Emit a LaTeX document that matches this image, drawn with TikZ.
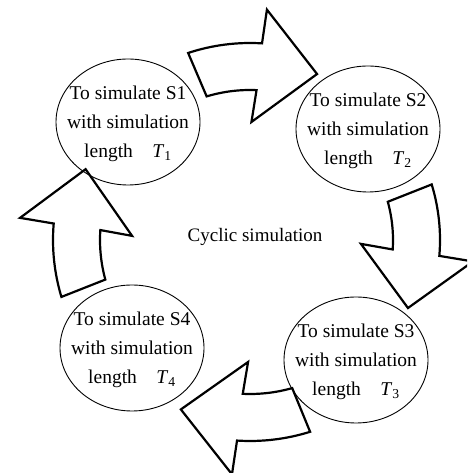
\documentclass[tikz,border=0pt]{standalone}
\usepackage{fontspec}
\setmainfont{Liberation Serif}
\usepackage{tikz}
\usetikzlibrary{shapes.geometric,positioning,calc}
\newcommand{\simlen}[1]{length\quad\textit{T}\textsubscript{#1}}

\begin{document}
\begin{tikzpicture}[x=1pt,y=1pt,
    stage/.style={ellipse, draw, line width=0.9pt, minimum width=144, minimum height=126, inner sep=0pt},
    stagetext/.style={align=center, inner sep=0pt, font=\fontsize{19.5}{29}\selectfont},
    blockarrow/.style={draw, line width=2.2pt, line join=miter}]
        \useasboundingbox (0,0) rectangle (467,473);
        \clip (0,0) rectangle (467,473);
        % Etapes
        \node[stage] (s1) at (128,351) {};
        \node[stage] (s2) at (368,344) {};
        \node[stage] (s3) at (356,113) {};
        \node[stage] (s4) at (132,125) {};
        \node[stagetext, below=2 of s1.center, anchor=center] (t1) {To simulate S1\\with simulation\\\simlen{1}};
        \node[stagetext, below=2 of s2.center, anchor=center] (t2) {To simulate S2\\with simulation\\\simlen{2}};
        \node[stagetext, below=2 of s3.center, anchor=center] (t3) {To simulate S3\\with simulation\\\simlen{3}};
        \node[stagetext, below=2 of s4.center, anchor=center] (t4) {To simulate S4\\with simulation\\\simlen{4}};
        \node[font=\fontsize{19}{23}\selectfont] (cyc) at (255,236) {Cyclic simulation};
        % Fleches courbes
        \coordinate (c) at (250,233);
        \begin{scope}[shift={(c)}]
            \foreach \s/\e/\d in {108.3/86.5/0, 17/-4.8/-7, -72.6/-93.7/4, 196.8/175.2/0}
                \draw[blockarrow] (\s:197+\d) arc[start angle=\s, end angle=\e, radius=197+\d]
                    -- (\e-0.7:231+\d) -- (\e-18.5:179+\d) -- (\e+2.8:118+\d)
                    -- (\e+1:150+\d) arc[start angle=\e+1, end angle=\s-1.5, radius=150+\d] -- cycle;
        \end{scope}
    \end{tikzpicture}
\end{document}
